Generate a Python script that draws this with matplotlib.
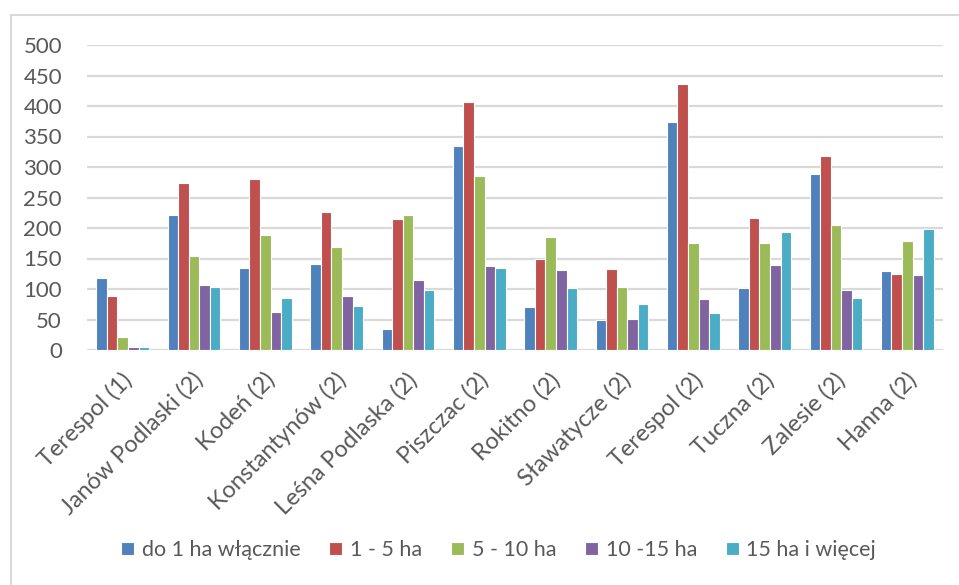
import numpy as np
import matplotlib
matplotlib.use("Agg")
import matplotlib.pyplot as plt
from matplotlib.lines import Line2D
from matplotlib.transforms import ScaledTranslation

plt.rcParams['font.family'] = ['Lato', 'DejaVu Sans']

gminy = ["Terespol (1)", "Janów Podlaski (2)", "Kodeń (2)", "Konstantynów (2)",
         "Leśna Podlaska (2)", "Piszczac (2)", "Rokitno (2)", "Sławatycze (2)",
         "Terespol (2)", "Tuczna (2)", "Zalesie (2)", "Hanna (2)"]

grupy = ["do 1 ha włącznie", "1 - 5 ha", "5 - 10 ha", "10 -15 ha", "15 ha i więcej"]

do_1ha = [118, 222, 135, 141, 34, 335, 70, 49, 373, 102, 289, 130]
ha_1_5 = [89, 274, 280, 226, 215, 407, 150, 133, 436, 217, 318, 125]
ha_5_10 = [22, 154, 188, 169, 222, 285, 186, 104, 175, 175, 205, 178]
ha_10_15 = [5, 106, 62, 89, 115, 138, 131, 51, 83, 139, 98, 123]
ha_15_plus = [5, 104, 85, 72, 99, 135, 102, 76, 60, 194, 85, 198]

serie = [do_1ha, ha_1_5, ha_5_10, ha_10_15, ha_15_plus]
kolory = ["#4F81BD", "#C0504D", "#9BBB59", "#8064A2", "#4BACC6"]

fig = plt.figure(figsize=(9.59, 5.85), dpi=100)
ax = fig.add_axes([87/959, 1 - 350/585, (943 - 87)/959, 305/585])

x = np.arange(len(gminy))
w = 0.148
for i, (vals, c) in enumerate(zip(serie, kolory)):
    ax.bar(x + (i - 2) * w, vals, width=w, color=c, edgecolor="white",
           linewidth=0.8, label=grupy[i], zorder=3)

ax.set_xlim(-0.5, len(gminy) - 0.5)
ax.set_ylim(0, 500)
ax.set_yticks(range(0, 501, 50))
ax.yaxis.grid(True, color="#d9d9d9", linewidth=1.6, zorder=0)
for s in ax.spines.values():
    s.set_visible(False)
ax.tick_params(axis="y", length=0, labelsize=16, colors="#595959", pad=18)
ax.tick_params(axis="x", length=0, labelsize=17, colors="#595959", pad=19)

ax.set_xticks(x)
ax.set_xticklabels(gminy, rotation=45, ha="right", va="center",
                   rotation_mode="anchor")
przes = ScaledTranslation(6/100, 0, fig.dpi_scale_trans)
for lab in ax.get_xticklabels():
    lab.set_transform(lab.get_transform() + przes)

# ramka wykresu
fig.add_artist(Line2D([11/959, 11/959], [0, 1 - 15/585], color="#d9d9d9",
                      linewidth=1.5, transform=fig.transFigure))
fig.add_artist(Line2D([11/959, 1], [1 - 15/585, 1 - 15/585], color="#d9d9d9",
                      linewidth=1.5, transform=fig.transFigure))

fig.legend(loc="center", bbox_to_anchor=(0.52, 1 - 550/585), ncol=5,
           frameon=False, fontsize=15.5, handlelength=0.6, handleheight=0.6,
           handletextpad=0.35, columnspacing=1.35, labelcolor="#595959")

fig.savefig("out.png", dpi=100)
